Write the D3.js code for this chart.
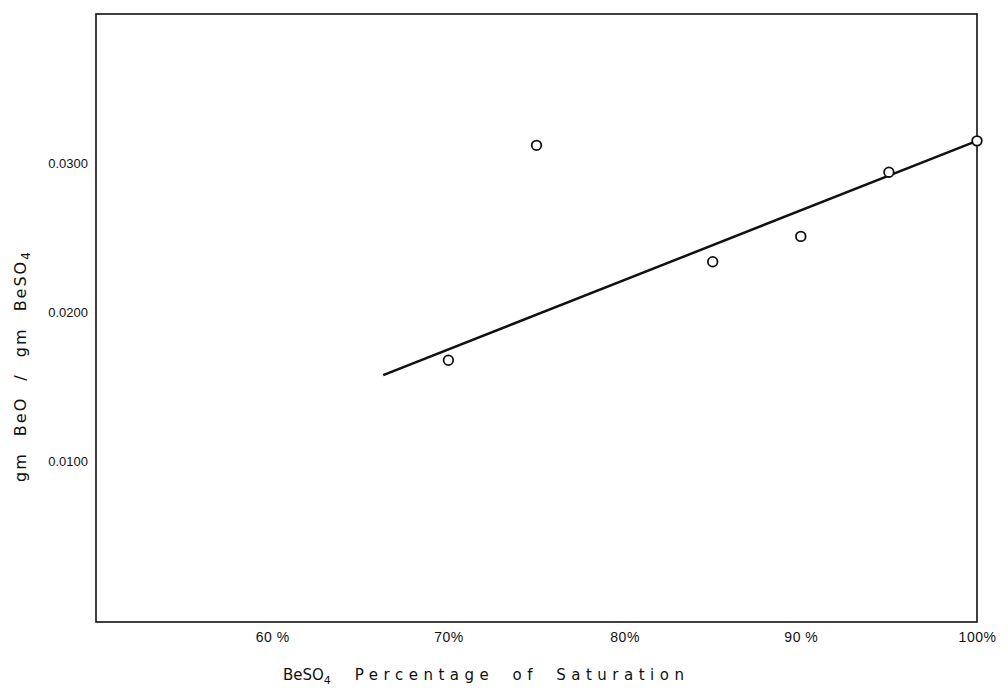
<!DOCTYPE html>
<html>
<head>
<meta charset="utf-8">
<script src="https://cdn.jsdelivr.net/npm/d3@7"></script>
<style>
  body { margin: 0; background: #fff; }
  svg { display: block; font-family: 'DejaVu Sans', sans-serif; }
</style>
</head>
<body>
<svg id="chart" width="1008" height="689"></svg>
<script>
  // saturation (%) and gm BeO / gm BeSO4
  const saturation = [70, 75, 85, 90, 95, 100];
  const ratio = [0.0168, 0.0312, 0.0234, 0.0251, 0.0294, 0.0315];
  const fitX = [66.3, 100];
  const fitY = [0.0158, 0.0315];
  const xTicks = [60, 70, 80, 90, 100];
  const xTickLabels = ['60 %', '70%', '80%', '90 %', '100%'];
  const yTicks = [0.01, 0.02, 0.03];
  const yTickLabels = ['0.0100', '0.0200', '0.0300'];

  const svg = d3.select('#chart');
  const frame = { left: 96, right: 977, top: 14, bottom: 622 };

  const x = d3.scaleLinear().domain([50, 100]).range([frame.left, frame.right]);
  const y = d3.scaleLinear().domain([0, 0.04]).range([611, frame.top]);

  svg.append('rect')
    .attr('x', frame.left)
    .attr('y', frame.top)
    .attr('width', frame.right - frame.left)
    .attr('height', frame.bottom - frame.top)
    .attr('fill', 'none')
    .attr('stroke', '#111')
    .attr('stroke-width', 1.6);

  // x tick labels, no tick marks
  const xAxis = d3.axisBottom(x).tickValues(xTicks).tickSize(0)
    .tickFormat((d, i) => xTickLabels[i]);
  const gx = svg.append('g')
    .attr('transform', `translate(0,${frame.bottom})`)
    .call(xAxis);
  gx.select('.domain').remove();
  gx.selectAll('text')
    .attr('dy', 0)
    .attr('y', 20)
    .attr('font-size', 14)
    .attr('letter-spacing', 0.5)
    .attr('fill', '#111');

  const yAxis = d3.axisLeft(y).tickValues(yTicks).tickSize(0)
    .tickFormat((d, i) => yTickLabels[i]);
  const gy = svg.append('g')
    .attr('transform', `translate(${frame.left - 8},0)`)
    .call(yAxis);
  gy.select('.domain').remove();
  gy.selectAll('text')
    .attr('x', 0)
    .attr('font-size', 13)
    .attr('fill', '#111');

  // fitted line
  const line = d3.line().x(d => x(d[0])).y(d => y(d[1]));
  svg.append('path')
    .datum(d3.zip(fitX, fitY))
    .attr('d', line)
    .attr('fill', 'none')
    .attr('stroke', '#111')
    .attr('stroke-width', 2.5);

  svg.selectAll('circle.pt')
    .data(d3.zip(saturation, ratio))
    .enter()
    .append('circle')
    .attr('class', 'pt')
    .attr('cx', d => x(d[0]))
    .attr('cy', d => y(d[1]))
    .attr('r', 4.8)
    .attr('fill', '#fff')
    .attr('stroke', '#111')
    .attr('stroke-width', 1.8);

  // axis titles
  const xt = svg.append('text')
    .attr('x', 283)
    .attr('y', 680)
    .attr('font-size', 15)
    .attr('fill', '#111');
  xt.append('tspan').text('BeSO');
  xt.append('tspan').attr('font-size', 11).attr('dy', 4).text('4');
  xt.append('tspan').attr('dy', -4).attr('dx', 24)
    .attr('letter-spacing', 5.5).attr('word-spacing', 8)
    .text('Percentage of Saturation');

  const yt = svg.append('text')
    .attr('transform', 'translate(26,482) rotate(-90)')
    .attr('font-size', 16)
    .attr('letter-spacing', 2)
    .attr('word-spacing', 9)
    .attr('fill', '#111');
  yt.append('tspan').text('gm BeO / gm BeSO');
  yt.append('tspan').attr('font-size', 12).attr('dy', 4).text('4');
</script>
</body>
</html>
